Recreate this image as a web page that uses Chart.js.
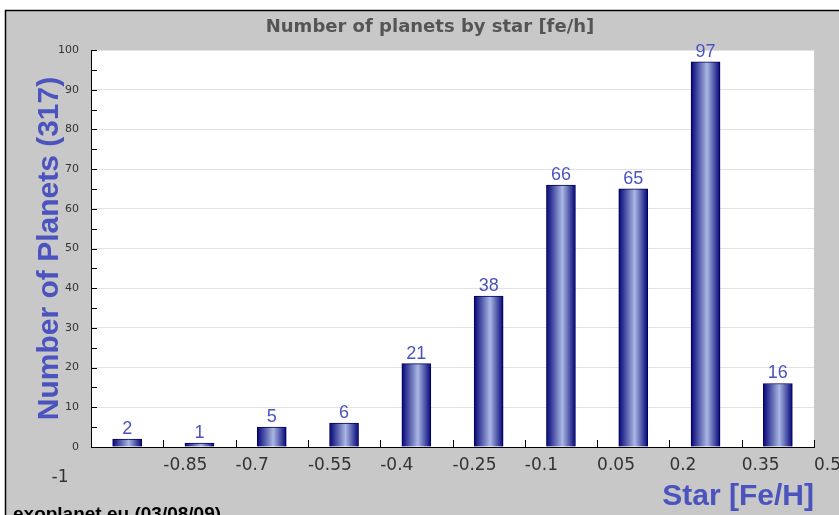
<!DOCTYPE html>
<html>
<head>
<meta charset="utf-8">
<script src="https://cdn.jsdelivr.net/npm/chart.js@4"></script>
<style>
  body { margin: 0; background: #fff; }
</style>
</head>
<body>
<canvas id="chart" width="839" height="515"></canvas>
<script>
// bin centres of star metallicity and planet counts per bin
const binCenters = [-0.925, -0.775, -0.625, -0.475, -0.325, -0.175, -0.025, 0.125, 0.275, 0.425];
const planetCounts = [2, 1, 5, 6, 21, 38, 66, 65, 97, 16];
const xTickLabels = ['-1', '-0.85', '-0.7', '-0.55', '-0.4', '-0.25', '-0.1', '0.05', '0.2', '0.35', '0.5'];
const yMax = 100;
const yStep = 5;

const chartTitle = 'Number of planets by star [fe/h]';
const footerText = 'exoplanet.eu (03/08/09)';
const blue = '#4b53bf';

const points = binCenters.map((x, i) => ({ x: x, y: planetCounts[i] }));

const frame = {
    id: 'frame',
    beforeDraw(chart) {
        const c = chart.ctx;
        const a = chart.chartArea;
        c.save();
        c.fillStyle = '#ffffff';
        c.fillRect(0, 0, chart.width, chart.height);
        c.fillStyle = '#c8c8c8';
        c.fillRect(5, 10, chart.width - 5, chart.height - 10);
        c.strokeStyle = '#000';
        c.lineWidth = 1.5;
        c.beginPath();
        c.moveTo(5.5, chart.height);
        c.lineTo(5.5, 10.5);
        c.lineTo(chart.width, 10.5);
        c.stroke();
        c.fillStyle = '#ffffff';
        c.fillRect(a.left, a.top, a.right - a.left, a.bottom - a.top);
        c.restore();
    },
    afterDatasetsDraw(chart) {
        const c = chart.ctx;
        const meta = chart.getDatasetMeta(0);
        c.save();
        c.fillStyle = blue;
        c.font = '18px "Liberation Sans", Arial';
        c.textAlign = 'center';
        c.textBaseline = 'bottom';
        meta.data.forEach((bar, i) => {
            c.fillText(String(planetCounts[i]), bar.x, bar.y - 1);
        });
        c.restore();
    },
    afterDraw(chart) {
        const c = chart.ctx;
        const a = chart.chartArea;
        const xs = chart.scales.x;
        const ys = chart.scales.y;
        c.save();
        // inward tick marks
        c.strokeStyle = '#000';
        c.lineWidth = 1;
        c.beginPath();
        ys.ticks.forEach(t => {
            const y = Math.round(ys.getPixelForValue(t.value)) + 0.5;
            c.moveTo(a.left, y);
            c.lineTo(a.left + 6, y);
        });
        xs.ticks.forEach(t => {
            const x = Math.round(xs.getPixelForValue(t.value)) + 0.5;
            c.moveTo(x, a.bottom);
            c.lineTo(x, a.bottom - 7);
        });
        c.stroke();
        // title
        c.fillStyle = '#555';
        c.font = 'bold 18px "DejaVu Sans"';
        c.textAlign = 'center';
        c.textBaseline = 'middle';
        c.fillText(chartTitle, 430, 27);
        // first x label sits lower-left in the original
        c.fillStyle = '#333';
        c.font = '17px "DejaVu Sans"';
        c.fillText(xTickLabels[0], 60, 478);
        // footer
        c.fillStyle = '#000';
        c.font = 'bold 19px "Liberation Sans", Arial';
        c.textAlign = 'left';
        c.textBaseline = 'alphabetic';
        c.fillText(footerText, 13, 520);
        c.restore();
    }
};

const ctx = document.getElementById('chart').getContext('2d');
const chart = new Chart(ctx, {
    type: 'bar',
    data: {
        datasets: [{
            data: points,
            barThickness: 29,
            borderWidth: 1,
            borderColor: '#00005c',
            backgroundColor: function(c) {
                const xs = c.chart.scales.x;
                if (!xs || c.type !== 'data' || !c.raw) return '#202a90';
                const px = xs.getPixelForValue(c.raw.x);
                if (!isFinite(px)) return '#202a90';
                const g = c.chart.ctx.createLinearGradient(px - 14.5, 0, px + 14.5, 0);
                g.addColorStop(0, '#050578');
                g.addColorStop(0.55, '#a9b7e3');
                g.addColorStop(1, '#050578');
                return g;
            }
        }]
    },
    options: {
        responsive: false,
        animation: false,
        layout: { padding: { left: 20, top: 50, right: 25, bottom: 0 } },
        plugins: {
            legend: { display: false },
            tooltip: { enabled: false }
        },
        scales: {
            x: {
                type: 'linear',
                min: -1,
                max: 0.5,
                offset: false,
                afterBuildTicks: s => { s.ticks = xTickLabels.map(t => ({ value: parseFloat(t) })); },
                afterFit: s => { s.height = 68; s.paddingRight = 0; },
                grid: { display: false, offset: false },
                border: { display: true, color: '#000', width: 1 },
                ticks: {
                    align: 'start',
                    padding: 0,
                    autoSkip: false,
                    maxRotation: 0,
                    color: '#333',
                    font: { family: 'DejaVu Sans', size: 17 },
                    callback: (v, i) => i === 0 ? '' : xTickLabels[i]
                },
                title: {
                    display: true,
                    text: 'Star [Fe/H]',
                    align: 'end',
                    color: blue,
                    font: { family: 'Liberation Sans', size: 30, weight: 'bold' },
                    padding: { top: 0, bottom: 0 }
                }
            },
            y: {
                min: 0,
                max: yMax,
                afterFit: s => { s.width = 71; },
                grid: {
                    drawTicks: false,
                    color: c => (c.tick && c.tick.value % 10 === 0 && c.tick.value > 0) ? '#e2e2e2' : 'rgba(0,0,0,0)'
                },
                border: { display: true, color: '#000', width: 1 },
                ticks: {
                    stepSize: yStep,
                    autoSkip: false,
                    padding: 12,
                    color: '#333',
                    font: { family: 'DejaVu Sans', size: 11 },
                    callback: v => v % 10 === 0 ? v : ''
                },
                title: {
                    display: true,
                    text: 'Number of Planets (317)',
                    color: blue,
                    font: { family: 'Liberation Sans', size: 30, weight: 'bold' },
                    padding: { top: 12, bottom: 0 }
                }
            }
        }
    },
    plugins: [frame]
});
</script>
</body>
</html>
